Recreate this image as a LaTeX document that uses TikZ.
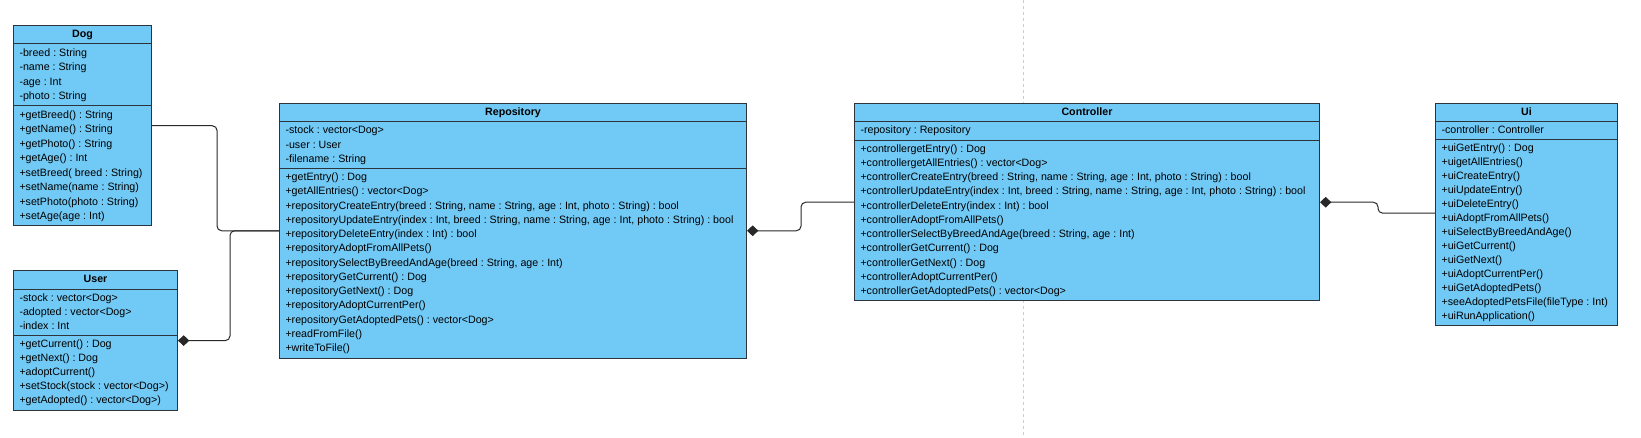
\documentclass[tikz,border=0pt]{standalone}
\usepackage{fontspec}
\setmainfont{Liberation Sans}
\usetikzlibrary{arrows.meta,positioning,shapes.multipart}
\definecolor{classblue}{RGB}{113,201,245}
\definecolor{classline}{RGB}{45,52,60}
\definecolor{linkgray}{RGB}{40,40,40}
\definecolor{sepgray}{RGB}{205,205,205}
\tikzset{class node/.style={rectangle split,rectangle split parts=3,rectangle split part align={center,left,left},draw=classline,fill=classblue,line width=0.75pt,inner xsep=4.5pt,inner ysep=1.125pt,align=left,font=\fontsize{8}{#1}\selectfont\frenchspacing},link/.style={draw=linkgray,line width=0.75pt,rounded corners=3.5pt},part of/.style={{Diamond[length=8.5pt,width=8pt]}-}}

\begin{document}
\begin{tikzpicture}[x=0.75pt,y=-0.75pt]
    \useasboundingbox (0,0) rectangle (1641,438);
    \draw[sepgray,line width=0.75pt,dash pattern=on 2.25pt off 2.25pt] (1023,0) -- (1023,438);
    \node[class node=10.875pt, minimum width=103.5pt, anchor=north west] (dog) at (13,25) {\textbf{Dog}\strut
        \nodepart{second}\strut-breed : String\\-name : String\\-age : Int\\-photo : String\strut
        \nodepart{third}\strut+getBreed() : String\\+getName() : String\\+getPhoto() : String\\+getAge() : Int\\+setBreed( breed : String)\\+setName(name : String)\\+setPhoto(photo : String)\\+setAge(age : Int)\strut};
    \node[class node=10.6pt, minimum width=123pt, below=33pt of dog.south west, anchor=north west] (user) {\textbf{User}\strut
        \nodepart{second}\strut-stock : vector<Dog>\\-adopted : vector<Dog>\\-index : Int\strut
        \nodepart{third}\strut+getCurrent() : Dog\\+getNext() : Dog\\+adoptCurrent()\\+setStock(stock : vector<Dog>)\\+getAdopted() : vector<Dog>)\strut};
    \node[class node=10.7pt, minimum width=350.25pt, anchor=north west] (repo) at (279,103) {\textbf{Repository}\strut
        \nodepart{second}\strut-stock : vector<Dog>\\-user : User\\-filename : String\strut
        \nodepart{third}\strut+getEntry() : Dog\\+getAllEntries() : vector<Dog>\\+repositoryCreateEntry(breed : String, name : String, age : Int, photo : String) : bool\\+repositoryUpdateEntry(index : Int, breed : String, name : String, age : Int, photo : String) : bool\\+repositoryDeleteEntry(index : Int) : bool\\+repositoryAdoptFromAllPets()\\+repositorySelectByBreedAndAge(breed : String, age : Int)\\+repositoryGetCurrent() : Dog\\+repositoryGetNext() : Dog\\+repositoryAdoptCurrentPer()\\+repositoryGetAdoptedPets() : vector<Dog>\\+readFromFile()\\+writeToFile()\strut};
    \node[class node=10.7pt, minimum width=348.75pt, right=80.25pt of repo.north east, anchor=north west] (ctrl) {\textbf{Controller}\strut
        \nodepart{second}\strut-repository : Repository\strut
        \nodepart{third}\strut+controllergetEntry() : Dog\\+controllergetAllEntries() : vector<Dog>\\+controllerCreateEntry(breed : String, name : String, age : Int, photo : String) : bool\\+controllerUpdateEntry(index : Int, breed : String, name : String, age : Int, photo : String) : bool\\+controllerDeleteEntry(index : Int) : bool\\+controllerAdoptFromAllPets()\\+controllerSelectByBreedAndAge(breed : String, age : Int)\\+controllerGetCurrent() : Dog\\+controllerGetNext() : Dog\\+controllerAdoptCurrentPer()\\+controllerGetAdoptedPets() : vector<Dog>\strut};
    \node[class node=10.5pt, minimum width=136.5pt, right=86.25pt of ctrl.north east, anchor=north west] (ui) {\textbf{Ui}\strut
        \nodepart{second}\strut-controller : Controller\strut
        \nodepart{third}\strut+uiGetEntry() : Dog\\+uigetAllEntries()\\+uiCreateEntry()\\+uiUpdateEntry()\\+uiDeleteEntry()\\+uiAdoptFromAllPets()\\+uiSelectByBreedAndAge()\\+uiGetCurrent()\\+uiGetNext()\\+uiAdoptCurrentPer()\\+uiGetAdoptedPets()\\+seeAdoptedPetsFile(fileType : Int)\\+uiRunApplication()\strut};
    \draw[link] (dog.east) -- ++(65,0) |- (repo.west);
    \draw[link,part of] (user.east) -- ++(52,0) |- (repo.west);
    \draw[link,part of] (repo.east) -- ++(54,0) |- (ctrl.west);
    \draw[link,part of] (ctrl.east) -- ++(58,0) |- ([yshift=1pt]ui.west);
\end{tikzpicture}
\end{document}
